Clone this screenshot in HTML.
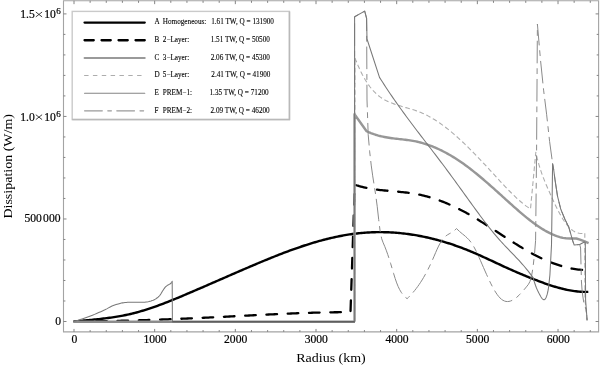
<!DOCTYPE html>
<html><head><meta charset="utf-8"><style>
html,body{margin:0;padding:0;background:#fff;width:600px;height:365px;overflow:hidden}
svg{display:block;will-change:transform}
text{font-family:"Liberation Serif",serif;fill:#000;stroke:#000;stroke-width:0.2px}
.lg{font-size:7.2px;stroke-width:0.1px}
.tk{font-size:11.6px}
.sup{font-size:9px}
.al{font-size:13px;stroke-width:0}
</style></head><body>
<svg width="600" height="365" viewBox="0 0 600 365">
<path d="M63.5,0.75H598.6V331.85H63.5Z" fill="none" stroke="#a4a4a4" stroke-width="1.1"/>
<path d="M74.00,331.85v-2.9M74.00,0.75v3.4M90.13,331.85v-1.8M90.13,0.75v2.1M106.27,331.85v-1.8M106.27,0.75v2.1M122.40,331.85v-1.8M122.40,0.75v2.1M138.54,331.85v-1.8M138.54,0.75v2.1M154.67,331.85v-2.9M154.67,0.75v3.4M170.80,331.85v-1.8M170.80,0.75v2.1M186.94,331.85v-1.8M186.94,0.75v2.1M203.07,331.85v-1.8M203.07,0.75v2.1M219.21,331.85v-1.8M219.21,0.75v2.1M235.34,331.85v-2.9M235.34,0.75v3.4M251.47,331.85v-1.8M251.47,0.75v2.1M267.61,331.85v-1.8M267.61,0.75v2.1M283.74,331.85v-1.8M283.74,0.75v2.1M299.88,331.85v-1.8M299.88,0.75v2.1M316.01,331.85v-2.9M316.01,0.75v3.4M332.14,331.85v-1.8M332.14,0.75v2.1M348.28,331.85v-1.8M348.28,0.75v2.1M364.41,331.85v-1.8M364.41,0.75v2.1M380.55,331.85v-1.8M380.55,0.75v2.1M396.68,331.85v-2.9M396.68,0.75v3.4M412.81,331.85v-1.8M412.81,0.75v2.1M428.95,331.85v-1.8M428.95,0.75v2.1M445.08,331.85v-1.8M445.08,0.75v2.1M461.22,331.85v-1.8M461.22,0.75v2.1M477.35,331.85v-2.9M477.35,0.75v3.4M493.48,331.85v-1.8M493.48,0.75v2.1M509.62,331.85v-1.8M509.62,0.75v2.1M525.75,331.85v-1.8M525.75,0.75v2.1M541.89,331.85v-1.8M541.89,0.75v2.1M558.02,331.85v-2.9M558.02,0.75v3.4M574.15,331.85v-1.8M574.15,0.75v2.1M590.29,331.85v-1.8M590.29,0.75v2.1M63.5,321.50h3.0M598.6,321.50h-3.0M63.5,300.99h1.9M598.6,300.99h-1.9M63.5,280.49h1.9M598.6,280.49h-1.9M63.5,259.98h1.9M598.6,259.98h-1.9M63.5,239.47h1.9M598.6,239.47h-1.9M63.5,218.97h3.0M598.6,218.97h-3.0M63.5,198.46h1.9M598.6,198.46h-1.9M63.5,177.95h1.9M598.6,177.95h-1.9M63.5,157.44h1.9M598.6,157.44h-1.9M63.5,136.94h1.9M598.6,136.94h-1.9M63.5,116.43h3.0M598.6,116.43h-3.0M63.5,95.92h1.9M598.6,95.92h-1.9M63.5,75.42h1.9M598.6,75.42h-1.9M63.5,54.91h1.9M598.6,54.91h-1.9M63.5,34.40h1.9M598.6,34.40h-1.9M63.5,13.90h3.0M598.6,13.90h-3.0" stroke="#777" stroke-width="0.9" fill="none"/>
<polyline points="73.50,321.54 75.00,321.39 76.50,321.25 78.00,321.10 79.50,320.96 81.00,320.82 82.50,320.68 84.00,320.54 85.50,320.41 87.00,320.26 88.50,320.12 90.00,319.98 91.50,319.84 93.00,319.69 94.50,319.54 96.00,319.38 97.50,319.23 99.00,319.07 100.50,318.90 102.00,318.73 103.50,318.55 105.00,318.37 106.50,318.18 108.00,317.99 109.50,317.79 111.00,317.58 112.50,317.36 114.00,317.14 115.50,316.90 117.00,316.66 118.50,316.41 120.00,316.14 121.50,315.87 123.00,315.59 124.50,315.29 126.00,314.98 127.50,314.66 129.00,314.33 130.50,313.99 132.00,313.63 133.50,313.26 135.00,312.87 136.50,312.48 138.00,312.07 139.50,311.65 141.00,311.21 142.50,310.77 144.00,310.31 145.50,309.85 147.00,309.37 148.50,308.89 150.00,308.39 151.50,307.88 153.00,307.37 154.50,306.84 156.00,306.31 157.50,305.77 159.00,305.22 160.50,304.67 162.00,304.10 163.50,303.53 165.00,302.96 166.50,302.37 168.00,301.78 169.50,301.19 171.00,300.59 172.50,299.98 174.00,299.37 175.50,298.76 177.00,298.14 178.50,297.52 180.00,296.89 181.50,296.27 183.00,295.63 184.50,295.00 186.00,294.36 187.50,293.73 189.00,293.09 190.50,292.44 192.00,291.80 193.50,291.16 195.00,290.51 196.50,289.87 198.00,289.22 199.50,288.57 201.00,287.93 202.50,287.28 204.00,286.63 205.50,285.98 207.00,285.33 208.50,284.67 210.00,284.02 211.50,283.37 213.00,282.72 214.50,282.06 216.00,281.41 217.50,280.75 219.00,280.10 220.50,279.45 222.00,278.79 223.50,278.14 225.00,277.48 226.50,276.83 228.00,276.18 229.50,275.52 231.00,274.87 232.50,274.22 234.00,273.57 235.50,272.92 237.00,272.27 238.50,271.62 240.00,270.97 241.50,270.32 243.00,269.67 244.50,269.02 246.00,268.38 247.50,267.73 249.00,267.09 250.50,266.45 252.00,265.81 253.50,265.17 255.00,264.53 256.50,263.90 258.00,263.26 259.50,262.63 261.00,262.01 262.50,261.38 264.00,260.76 265.50,260.14 267.00,259.52 268.50,258.91 270.00,258.30 271.50,257.69 273.00,257.09 274.50,256.49 276.00,255.90 277.50,255.30 279.00,254.72 280.50,254.13 282.00,253.56 283.50,252.98 285.00,252.41 286.50,251.85 288.00,251.29 289.50,250.74 291.00,250.19 292.50,249.64 294.00,249.11 295.50,248.58 297.00,248.05 298.50,247.53 300.00,247.02 301.50,246.51 303.00,246.01 304.50,245.51 306.00,245.02 307.50,244.54 309.00,244.07 310.50,243.60 312.00,243.14 313.50,242.69 315.00,242.25 316.50,241.81 318.00,241.38 319.50,240.96 321.00,240.55 322.50,240.14 324.00,239.75 325.50,239.36 327.00,238.98 328.50,238.61 330.00,238.25 331.50,237.90 333.00,237.55 334.50,237.22 336.00,236.90 337.50,236.58 339.00,236.28 340.50,235.98 342.00,235.70 343.50,235.42 345.00,235.16 346.50,234.91 348.00,234.66 349.50,234.43 351.00,234.21 352.50,234.00 354.00,233.80 355.50,233.61 357.00,233.44 358.50,233.27 360.00,233.12 361.50,232.98 363.00,232.84 364.50,232.72 366.00,232.62 367.50,232.52 369.00,232.43 370.50,232.36 372.00,232.29 373.50,232.24 375.00,232.20 376.50,232.17 378.00,232.15 379.50,232.14 381.00,232.14 382.50,232.16 384.00,232.18 385.50,232.21 387.00,232.26 388.50,232.32 390.00,232.39 391.50,232.46 393.00,232.55 394.50,232.65 396.00,232.76 397.50,232.89 399.00,233.02 400.50,233.16 402.00,233.32 403.50,233.48 405.00,233.66 406.50,233.84 408.00,234.04 409.50,234.24 411.00,234.46 412.50,234.69 414.00,234.93 415.50,235.18 417.00,235.44 418.50,235.71 420.00,235.99 421.50,236.28 423.00,236.58 424.50,236.89 426.00,237.21 427.50,237.54 429.00,237.88 430.50,238.23 432.00,238.60 433.50,238.97 435.00,239.35 436.50,239.75 438.00,240.15 439.50,240.56 441.00,240.98 442.50,241.42 444.00,241.86 445.50,242.31 447.00,242.78 448.50,243.25 450.00,243.73 451.50,244.23 453.00,244.73 454.50,245.24 456.00,245.77 457.50,246.30 459.00,246.84 460.50,247.39 462.00,247.95 463.50,248.52 465.00,249.11 466.50,249.70 468.00,250.30 469.50,250.91 471.00,251.53 472.50,252.16 474.00,252.80 475.50,253.44 477.00,254.10 478.50,254.76 480.00,255.43 481.50,256.11 483.00,256.79 484.50,257.47 486.00,258.16 487.50,258.86 489.00,259.55 490.50,260.25 492.00,260.95 493.50,261.65 495.00,262.36 496.50,263.06 498.00,263.76 499.50,264.46 501.00,265.15 502.50,265.85 504.00,266.54 505.50,267.23 507.00,267.91 508.50,268.58 510.00,269.26 511.50,269.93 513.00,270.59 514.50,271.25 516.00,271.90 517.50,272.55 519.00,273.19 520.50,273.83 522.00,274.46 523.50,275.09 525.00,275.71 526.50,276.33 528.00,276.94 529.50,277.55 531.00,278.15 532.50,278.74 534.00,279.33 535.50,279.91 537.00,280.49 538.50,281.06 540.00,281.62 541.50,282.18 543.00,282.72 544.50,283.26 546.00,283.79 547.50,284.31 549.00,284.82 550.50,285.32 552.00,285.81 553.50,286.28 555.00,286.74 556.50,287.18 558.00,287.61 559.50,288.02 561.00,288.42 562.50,288.79 564.00,289.15 565.50,289.50 567.00,289.82 568.50,290.12 570.00,290.40 571.50,290.66 573.00,290.89 574.50,291.10 576.00,291.29 577.50,291.45 579.00,291.59 580.50,291.70 582.00,291.79 583.50,291.85 585.00,291.87 586.50,291.87 588.00,291.84 588.30,291.83" fill="none" stroke="#000" stroke-width="2.4" stroke-linejoin="round" />
<polyline points="73.50,321.48 75.00,321.47 76.50,321.46 78.00,321.45 79.50,321.44 81.00,321.43 82.50,321.42 84.00,321.40 85.50,321.39 87.00,321.37 88.50,321.35 90.00,321.34 91.50,321.32 93.00,321.30 94.50,321.28 96.00,321.26 97.50,321.23 99.00,321.21 100.50,321.19 102.00,321.16 103.50,321.13 105.00,321.11 106.50,321.08 108.00,321.05 109.50,321.02 111.00,320.99 112.50,320.96 114.00,320.93 115.50,320.90 117.00,320.86 118.50,320.83 120.00,320.79 121.50,320.76 123.00,320.72 124.50,320.68 126.00,320.64 127.50,320.60 129.00,320.56 130.50,320.52 132.00,320.48 133.50,320.44 135.00,320.40 136.50,320.35 138.00,320.31 139.50,320.26 141.00,320.22 142.50,320.17 144.00,320.13 145.50,320.08 147.00,320.03 148.50,319.98 150.00,319.93 151.50,319.88 153.00,319.83 154.50,319.78 156.00,319.72 157.50,319.67 159.00,319.62 160.50,319.56 162.00,319.51 163.50,319.45 165.00,319.40 166.50,319.34 168.00,319.28 169.50,319.22 171.00,319.17 172.50,319.11 174.00,319.05 175.50,318.99 177.00,318.93 178.50,318.87 180.00,318.80 181.50,318.74 183.00,318.68 184.50,318.61 186.00,318.55 187.50,318.49 189.00,318.42 190.50,318.36 192.00,318.29 193.50,318.22 195.00,318.16 196.50,318.09 198.00,318.02 199.50,317.95 201.00,317.89 202.50,317.82 204.00,317.75 205.50,317.68 207.00,317.61 208.50,317.54 210.00,317.46 211.50,317.39 213.00,317.32 214.50,317.25 216.00,317.18 217.50,317.10 219.00,317.03 220.50,316.95 222.00,316.88 223.50,316.81 225.00,316.73 226.50,316.66 228.00,316.58 229.50,316.50 231.00,316.43 232.50,316.35 234.00,316.27 235.50,316.20 237.00,316.12 238.50,316.04 240.00,315.97 241.50,315.89 243.00,315.81 244.50,315.73 246.00,315.66 247.50,315.58 249.00,315.50 250.50,315.42 252.00,315.35 253.50,315.27 255.00,315.19 256.50,315.12 258.00,315.04 259.50,314.96 261.00,314.89 262.50,314.81 264.00,314.74 265.50,314.66 267.00,314.59 268.50,314.52 270.00,314.44 271.50,314.37 273.00,314.30 274.50,314.23 276.00,314.16 277.50,314.09 279.00,314.02 280.50,313.95 282.00,313.88 283.50,313.82 285.00,313.75 286.50,313.68 288.00,313.62 289.50,313.56 291.00,313.49 292.50,313.43 294.00,313.37 295.50,313.31 297.00,313.26 298.50,313.20 300.00,313.14 301.50,313.09 303.00,313.04 304.50,312.98 306.00,312.93 307.50,312.88 309.00,312.84 310.50,312.79 312.00,312.74 313.50,312.70 315.00,312.66 316.50,312.62 318.00,312.58 319.50,312.54 321.00,312.51 322.50,312.47 324.00,312.44 325.50,312.41 327.00,312.38 328.50,312.35 330.00,312.33 331.50,312.30 333.00,312.28 334.50,312.26 336.00,312.24 337.50,312.23 339.00,312.21 340.50,312.20 342.00,312.19 343.50,312.18 345.00,312.18 346.50,312.17 348.00,312.17 349.50,312.17 350.50,312.18 354.80,184.77 356.30,185.26 357.80,185.71 359.30,186.15 360.80,186.55 362.30,186.93 363.80,187.29 365.30,187.62 366.80,187.94 368.30,188.23 369.80,188.51 371.30,188.77 372.80,189.01 374.30,189.24 375.80,189.45 377.30,189.65 378.80,189.84 380.30,190.02 381.80,190.19 383.30,190.34 384.80,190.50 386.30,190.64 387.80,190.79 389.30,190.92 390.80,191.06 392.30,191.19 393.80,191.33 395.30,191.46 396.80,191.60 398.30,191.73 399.80,191.88 401.30,192.03 402.80,192.18 404.30,192.34 405.80,192.51 407.30,192.70 408.80,192.89 410.30,193.09 411.80,193.31 413.30,193.54 414.80,193.79 416.30,194.06 417.80,194.34 419.30,194.64 420.80,194.96 422.30,195.30 423.80,195.66 425.30,196.04 426.80,196.43 428.30,196.84 429.80,197.28 431.30,197.72 432.80,198.19 434.30,198.68 435.80,199.18 437.30,199.70 438.80,200.23 440.30,200.79 441.80,201.36 443.30,201.94 444.80,202.54 446.30,203.16 447.80,203.80 449.30,204.45 450.80,205.11 452.30,205.79 453.80,206.49 455.30,207.20 456.80,207.93 458.30,208.67 459.80,209.43 461.30,210.20 462.80,210.98 464.30,211.78 465.80,212.60 467.30,213.42 468.80,214.26 470.30,215.12 471.80,215.98 473.30,216.86 474.80,217.75 476.30,218.65 477.80,219.56 479.30,220.49 480.80,221.41 482.30,222.35 483.80,223.30 485.30,224.25 486.80,225.21 488.30,226.17 489.80,227.14 491.30,228.11 492.80,229.08 494.30,230.06 495.80,231.04 497.30,232.02 498.80,233.00 500.30,233.98 501.80,234.96 503.30,235.94 504.80,236.92 506.30,237.89 507.80,238.86 509.30,239.82 510.80,240.79 512.30,241.74 513.80,242.69 515.30,243.63 516.80,244.57 518.30,245.49 519.80,246.41 521.30,247.32 522.80,248.22 524.30,249.10 525.80,249.98 527.30,250.84 528.80,251.69 530.30,252.52 531.80,253.34 533.30,254.15 534.80,254.94 536.30,255.71 537.80,256.47 539.30,257.22 540.80,257.94 542.30,258.65 543.80,259.34 545.30,260.01 546.80,260.67 548.30,261.30 549.80,261.92 551.30,262.52 552.80,263.10 554.30,263.65 555.80,264.19 557.30,264.71 558.80,265.20 560.30,265.68 561.80,266.13 563.30,266.56 564.80,266.97 566.30,267.35 567.80,267.71 569.30,268.05 570.80,268.36 572.30,268.65 573.80,268.92 575.30,269.16 576.80,269.37 578.30,269.56 579.80,269.72 581.30,269.86 582.80,269.97 584.30,270.05 585.80,270.10 587.30,270.13 588.30,270.13" fill="none" stroke="#000" stroke-width="2.3" stroke-linejoin="round" stroke-dasharray="10.6,10.701" stroke-linecap="round" stroke-dashoffset="19.93"/>
<path d="M73.5,321.75H355" stroke="#8c8c8c" stroke-width="2.5" fill="none"/>
<polyline points="354.50,321.50 354.50,114.30 366.40,131.06 367.90,131.79 369.40,132.47 370.90,133.10 372.40,133.69 373.90,134.23 375.40,134.73 376.90,135.19 378.40,135.62 379.90,136.01 381.40,136.37 382.90,136.70 384.40,137.00 385.90,137.28 387.40,137.53 388.90,137.77 390.40,137.99 391.90,138.19 393.40,138.39 394.90,138.57 396.40,138.74 397.90,138.91 399.40,139.08 400.90,139.25 402.40,139.41 403.90,139.59 405.40,139.77 406.90,139.96 408.40,140.16 409.90,140.38 411.40,140.61 412.90,140.86 414.40,141.14 415.90,141.44 417.40,141.76 418.90,142.11 420.40,142.49 421.90,142.90 423.40,143.33 424.90,143.78 426.40,144.26 427.90,144.77 429.40,145.30 430.90,145.86 432.40,146.44 433.90,147.05 435.40,147.68 436.90,148.34 438.40,149.02 439.90,149.72 441.40,150.45 442.90,151.20 444.40,151.97 445.90,152.77 447.40,153.59 448.90,154.44 450.40,155.30 451.90,156.19 453.40,157.10 454.90,158.04 456.40,158.99 457.90,159.97 459.40,160.97 460.90,161.99 462.40,163.03 463.90,164.09 465.40,165.17 466.90,166.27 468.40,167.40 469.90,168.54 471.40,169.70 472.90,170.88 474.40,172.07 475.90,173.28 477.40,174.50 478.90,175.74 480.40,176.99 481.90,178.26 483.40,179.53 484.90,180.82 486.40,182.12 487.90,183.42 489.40,184.74 490.90,186.06 492.40,187.39 493.90,188.72 495.40,190.07 496.90,191.41 498.40,192.76 499.90,194.11 501.40,195.47 502.90,196.82 504.40,198.18 505.90,199.54 507.40,200.89 508.90,202.25 510.40,203.60 511.90,204.95 513.40,206.29 514.90,207.62 516.40,208.95 517.90,210.27 519.40,211.57 520.90,212.86 522.40,214.14 523.90,215.40 525.40,216.64 526.90,217.86 528.40,219.06 529.90,220.24 531.40,221.39 532.90,222.52 534.40,223.62 535.90,224.70 537.40,225.74 538.90,226.75 540.40,227.74 541.90,228.69 543.40,229.60 544.90,230.49 546.40,231.33 547.90,232.14 549.40,232.91 550.90,233.63 552.40,234.32 553.90,234.96 555.40,235.56 556.90,236.12 558.40,236.63 559.90,237.09 561.40,237.50 562.90,237.86 563.00,237.88 566.00,238.30 570.00,238.50 576.40,238.50 580.00,239.60 584.00,241.20 588.60,243.10" fill="none" stroke="#979797" stroke-width="2.4" stroke-linejoin="round" />
<polyline points="354.90,321.50 354.90,57.73 356.40,61.58 357.90,65.19 359.40,68.58 360.90,71.75 362.40,74.71 363.90,77.48 365.40,80.05 366.90,82.44 368.40,84.66 369.90,86.72 371.40,88.61 372.90,90.36 374.40,91.96 375.90,93.44 377.40,94.79 378.90,96.03 380.40,97.15 381.90,98.18 383.40,99.12 384.90,99.98 386.40,100.77 387.90,101.49 389.40,102.15 390.90,102.77 392.40,103.34 393.90,103.89 395.40,104.41 396.90,104.90 398.40,105.38 399.90,105.84 401.40,106.29 402.90,106.73 404.40,107.16 405.90,107.60 407.40,108.03 408.90,108.47 410.40,108.92 411.90,109.38 413.40,109.85 414.90,110.35 416.40,110.86 417.90,111.40 419.40,111.97 420.90,112.57 422.40,113.21 423.90,113.89 425.40,114.60 426.90,115.34 428.40,116.13 429.90,116.94 431.40,117.79 432.90,118.67 434.40,119.58 435.90,120.53 437.40,121.51 438.90,122.51 440.40,123.55 441.90,124.62 443.40,125.71 444.90,126.84 446.40,127.99 447.90,129.16 449.40,130.37 450.90,131.60 452.40,132.85 453.90,134.13 455.40,135.43 456.90,136.75 458.40,138.10 459.90,139.47 461.40,140.85 462.90,142.26 464.40,143.69 465.90,145.13 467.40,146.59 468.90,148.07 470.40,149.56 471.90,151.07 473.40,152.59 474.90,154.12 476.40,155.67 477.90,157.23 479.40,158.80 480.90,160.39 482.40,161.98 483.90,163.58 485.40,165.19 486.90,166.81 488.40,168.43 489.90,170.06 491.40,171.70 492.90,173.34 494.40,174.98 495.90,176.62 497.40,178.25 498.90,179.89 500.40,181.51 501.90,183.13 503.40,184.73 504.90,186.32 506.40,187.90 507.90,189.46 509.40,190.99 510.90,192.51 512.40,194.00 513.90,195.47 515.40,196.90 516.90,198.30 518.40,199.66 519.90,200.99 521.40,202.27 522.90,203.50 524.40,204.69 525.90,205.83 527.40,206.91 528.90,207.93 530.40,208.90 530.50,208.96 535.80,152.36 537.30,158.64 538.80,164.20 540.30,169.15 541.80,173.60 543.30,177.65 544.80,181.39 546.30,184.95 547.80,188.41 549.30,191.83 550.80,195.20 552.30,198.51 553.80,201.75 555.30,204.92 556.80,207.99 558.30,210.95 559.80,213.77 561.30,216.44 562.80,218.93 564.30,221.24 565.80,223.34 567.30,225.24 568.80,226.94 570.30,228.44 571.80,229.74 573.30,230.85 574.80,231.75 576.30,232.47 577.80,232.99 579.30,233.31 580.80,233.44 582.30,233.38 583.80,233.13 584.80,232.86 585.00,300.00 586.50,312.00 587.10,320.40" fill="none" stroke="#adadad" stroke-width="1.1" stroke-linejoin="round" stroke-dasharray="4.7,2.756" stroke-dashoffset="4.5"/>
<polyline points="354.60,321.50 354.60,16.80 364.70,11.10 366.60,18.40 367.00,100.00 368.20,134.76 369.70,151.83 371.20,165.09 372.70,175.86 374.20,185.43 375.70,195.12 377.20,206.22 378.70,219.64 380.20,231.69 381.70,238.78 383.20,242.84 384.70,246.31 386.20,250.15 387.70,254.35 389.20,258.88 390.70,263.71 392.20,268.75 393.70,273.78 395.20,278.57 396.70,282.91 398.20,286.61 399.70,289.70 401.20,292.26 402.70,294.37 404.20,296.11 405.70,297.55 407.10,298.70 408.60,297.26 410.10,295.71 411.60,294.09 413.10,292.38 414.60,290.58 416.10,288.68 417.60,286.67 419.10,284.55 420.60,282.32 422.10,279.96 423.60,277.46 425.10,274.84 426.60,272.08 428.10,269.18 429.60,266.15 431.10,262.97 432.60,259.65 434.10,256.19 435.60,252.68 437.10,249.26 438.60,246.07 440.10,243.22 441.60,240.75 443.10,238.70 444.60,237.08 446.10,235.81 447.60,234.77 449.10,233.89 450.60,233.07 452.10,232.21 453.60,231.21 455.10,229.98 456.50,228.55 458.00,230.04 459.50,231.44 461.00,232.73 462.50,233.96 464.00,235.17 465.50,236.44 467.00,237.80 468.50,239.31 470.00,241.03 471.50,243.01 473.00,245.30 474.50,247.94 476.00,250.86 477.50,254.00 479.00,257.30 480.50,260.68 482.00,264.11 483.50,267.55 485.00,270.97 486.50,274.34 488.00,277.64 489.50,280.84 491.00,283.91 492.50,286.82 494.00,289.54 495.50,292.04 497.00,294.30 498.50,296.28 500.00,297.96 501.50,299.31 503.00,300.33 504.50,301.03 506.00,301.44 507.50,301.56 509.00,301.42 510.50,301.04 512.00,300.44 513.50,299.63 515.00,298.64 516.50,297.47 518.00,296.16 519.50,294.71 521.00,293.15 522.50,291.49 524.00,289.76 525.50,287.97 527.00,286.14 528.50,284.22 530.00,281.38 531.50,276.27 533.00,267.53 534.50,254.28 535.60,240.30 536.60,150.00 537.40,24.00 540.50,60.00 543.60,90.10 546.60,114.20 549.60,141.40 552.60,163.50 553.60,169.00 555.00,179.70 557.50,196.20 560.80,209.30 564.90,219.20 568.70,226.90 570.80,234.20 572.80,241.10 574.20,245.00 579.70,244.50 580.60,248.00 581.40,281.00 582.20,291.90 583.80,302.80 586.00,309.40 587.10,320.40" fill="none" stroke="#8a8a8a" stroke-width="1.0" stroke-linejoin="round" stroke-dasharray="22.6,4.9,5.8,4.9" stroke-dashoffset="30"/>
<polyline points="73.60,321.40 74.75,321.10 76.39,320.68 78.28,320.16 80.20,319.60 82.14,318.98 84.20,318.29 86.31,317.56 88.40,316.80 90.45,316.02 92.49,315.21 94.54,314.36 96.60,313.50 98.70,312.60 100.82,311.67 102.91,310.73 104.90,309.80 106.74,308.85 108.47,307.89 110.19,306.95 112.00,306.10 114.01,305.31 116.13,304.57 118.19,303.92 120.00,303.40 121.44,303.06 122.63,302.86 123.76,302.73 125.00,302.60 126.29,302.46 127.58,302.34 129.05,302.26 130.90,302.20 133.48,302.19 136.57,302.23 139.59,302.28 141.90,302.30 143.21,302.30 143.89,302.30 144.35,302.27 145.00,302.20 145.93,302.08 146.93,301.93 147.96,301.73 149.00,301.50 150.04,301.24 151.09,300.96 152.15,300.62 153.20,300.20 154.26,299.69 155.33,299.10 156.36,298.46 157.30,297.80 158.11,297.15 158.83,296.49 159.50,295.76 160.20,294.90 160.94,293.82 161.68,292.57 162.41,291.32 163.10,290.20 163.73,289.24 164.33,288.38 164.90,287.59 165.50,286.90 166.12,286.31 166.76,285.82 167.39,285.39 168.00,285.00 168.62,284.65 169.24,284.36 169.81,284.08 170.30,283.80 170.67,283.50 170.94,283.21 171.17,282.91 171.40,282.60 171.64,282.25 171.87,281.88 172.06,281.54 172.20,281.30 172.40,321.70 354.60,321.70 354.60,16.80 364.70,11.10 366.60,18.40 367.00,39.00 379.50,77.35 381.00,79.73 382.50,82.07 384.00,84.39 385.50,86.69 387.00,88.96 388.50,91.21 390.00,93.44 391.50,95.64 393.00,97.83 394.50,99.99 396.00,102.14 397.50,104.27 399.00,106.38 400.50,108.48 402.00,110.56 403.50,112.62 405.00,114.68 406.50,116.71 408.00,118.74 409.50,120.76 411.00,122.76 412.50,124.76 414.00,126.75 415.50,128.73 417.00,130.70 418.50,132.67 420.00,134.63 421.50,136.59 423.00,138.55 424.50,140.50 426.00,142.45 427.50,144.40 429.00,146.35 430.50,148.30 432.00,150.26 433.50,152.21 435.00,154.17 436.50,156.13 438.00,158.10 439.50,160.08 441.00,162.06 442.50,164.05 444.00,166.05 445.50,168.05 447.00,170.07 448.50,172.10 450.00,174.14 451.50,176.19 453.00,178.24 454.50,180.30 456.00,182.37 457.50,184.44 459.00,186.52 460.50,188.60 462.00,190.68 463.50,192.76 465.00,194.84 466.50,196.92 468.00,199.00 469.50,201.08 471.00,203.16 472.50,205.22 474.00,207.29 475.50,209.34 477.00,211.39 478.50,213.43 480.00,215.46 481.50,217.47 483.00,219.47 484.50,221.45 486.00,223.41 487.50,225.35 489.00,227.27 490.50,229.16 492.00,231.02 493.50,232.86 495.00,234.66 496.50,236.43 498.00,238.16 499.50,239.86 501.00,241.52 502.50,243.16 504.00,244.76 505.50,246.35 507.00,247.92 508.50,249.47 510.00,251.03 511.50,252.58 513.00,254.13 514.50,255.69 516.00,257.27 517.50,258.86 519.00,260.48 520.50,262.12 522.00,263.80 523.50,265.52 525.00,267.28 526.50,269.08 528.00,270.94 529.50,272.86 531.00,274.84 532.50,276.89 533.30,278.01 533.69,279.81 534.23,281.54 534.87,283.52 535.55,285.53 536.20,287.30 536.85,288.86 537.53,290.37 538.22,291.80 538.88,293.12 539.50,294.30 540.06,295.33 540.57,296.24 541.06,297.03 541.53,297.71 542.00,298.30 542.46,298.81 542.91,299.23 543.35,299.55 543.78,299.71 544.20,299.70 544.61,299.53 545.01,299.22 545.41,298.75 545.80,298.08 546.20,297.20 546.60,296.14 547.01,294.91 547.42,293.46 547.82,291.74 548.20,289.70 548.59,286.99 548.98,283.63 549.36,280.17 549.67,277.11 549.90,275.00 551.50,245.00 552.00,210.00 552.30,185.00 552.60,163.50 553.60,169.00 555.00,179.70 557.50,196.20 560.80,209.30 564.90,219.20 568.70,226.90 570.80,234.20 572.80,241.10 574.20,245.00 579.70,244.50 584.80,241.80 585.30,243.00 585.60,300.00 586.30,309.40 587.10,320.40" fill="none" stroke="#787878" stroke-width="1.05" stroke-linejoin="round" />
<path d="M172.4,321.75H354.6" stroke="#555" stroke-width="1.2" fill="none"/>
<rect x="72.2" y="11.4" width="217.2" height="108.2" fill="#fff" stroke="#cacaca" stroke-width="1.4"/>
<path d="M72.2,119.6H289.5V11.4" fill="none" stroke="#b9b9b9" stroke-width="1.5"/>
<line x1="84.55" y1="22.60" x2="144.75" y2="22.60" stroke="#000" stroke-width="2.3" stroke-linecap="round"/>
<text x="154.6" y="24.30" class="lg">A</text><text x="162.8" y="24.30" class="lg">Homogeneous:</text><text x="211.2" y="24.30" class="lg">1.61 TW, Q = 131900</text>
<line x1="84.55" y1="40.25" x2="144.75" y2="40.25" stroke="#000" stroke-width="2.3" stroke-linecap="round" stroke-dasharray="9.2,7.8"/>
<text x="154.6" y="41.95" class="lg">B</text><text x="162.8" y="41.95" class="lg">2−Layer:</text><text x="210.7" y="41.95" class="lg">1.51 TW, Q = 50500</text>
<line x1="84.55" y1="57.90" x2="144.75" y2="57.90" stroke="#9a9a9a" stroke-width="2.0" stroke-linecap="round"/>
<text x="154.6" y="59.60" class="lg">C</text><text x="162.8" y="59.60" class="lg">3−Layer:</text><text x="210.7" y="59.60" class="lg">2.06 TW, Q = 45300</text>
<line x1="84.55" y1="75.55" x2="144.75" y2="75.55" stroke="#adadad" stroke-width="1.1" stroke-linecap="round" stroke-dasharray="3.6,5.23"/>
<text x="154.6" y="77.25" class="lg">D</text><text x="162.8" y="77.25" class="lg">5−Layer:</text><text x="211.3" y="77.25" class="lg">2.41 TW, Q = 41900</text>
<line x1="84.55" y1="93.20" x2="144.75" y2="93.20" stroke="#858585" stroke-width="1.1" stroke-linecap="round"/>
<text x="154.6" y="94.90" class="lg">E</text><text x="162.8" y="94.90" class="lg">PREM−1:</text><text x="209.5" y="94.90" class="lg">1.35 TW, Q = 71200</text>
<line x1="84.55" y1="110.85" x2="144.75" y2="110.85" stroke="#9a9a9a" stroke-width="1.1" stroke-linecap="round" stroke-dasharray="17.8,5.4,3.7,5.3"/>
<text x="154.6" y="112.55" class="lg">F</text><text x="162.8" y="112.55" class="lg">PREM−2:</text><text x="210.5" y="112.55" class="lg">2.09 TW, Q = 46200</text>
<text x="74.30" y="343" class="tk" text-anchor="middle">0</text>
<text x="154.97" y="343" class="tk" text-anchor="middle">1000</text>
<text x="235.64" y="343" class="tk" text-anchor="middle">2000</text>
<text x="316.31" y="343" class="tk" text-anchor="middle">3000</text>
<text x="396.98" y="343" class="tk" text-anchor="middle">4000</text>
<text x="477.65" y="343" class="tk" text-anchor="middle">5000</text>
<text x="558.32" y="343" class="tk" text-anchor="middle">6000</text>
<text x="61" y="325.2" class="tk" text-anchor="end">0</text>
<text x="60.5" y="222.2" class="tk" text-anchor="end">500<tspan dx="1.2">000</tspan></text>
<text x="20.2" y="120.70" class="tk">1.0</text><path d="M35.8,114.70l6.3,4.9M42.1,114.70l-6.3,4.9" stroke="#000" stroke-width="0.75" fill="none"/><text x="44.2" y="120.70" class="tk">10</text><text x="56.2" y="117.10" class="sup">6</text>
<text x="20.2" y="18.00" class="tk">1.5</text><path d="M35.8,12.00l6.3,4.9M42.1,12.00l-6.3,4.9" stroke="#000" stroke-width="0.75" fill="none"/><text x="44.2" y="18.00" class="tk">10</text><text x="56.2" y="14.40" class="sup">6</text>
<text transform="translate(331,361.7) scale(1.077,1)" class="al" text-anchor="middle">Radius (km)</text>
<text transform="translate(11.6,166.3) rotate(-90) scale(1.077,1)" class="al" text-anchor="middle">Dissipation (W/m)</text>
</svg>
</body></html>
